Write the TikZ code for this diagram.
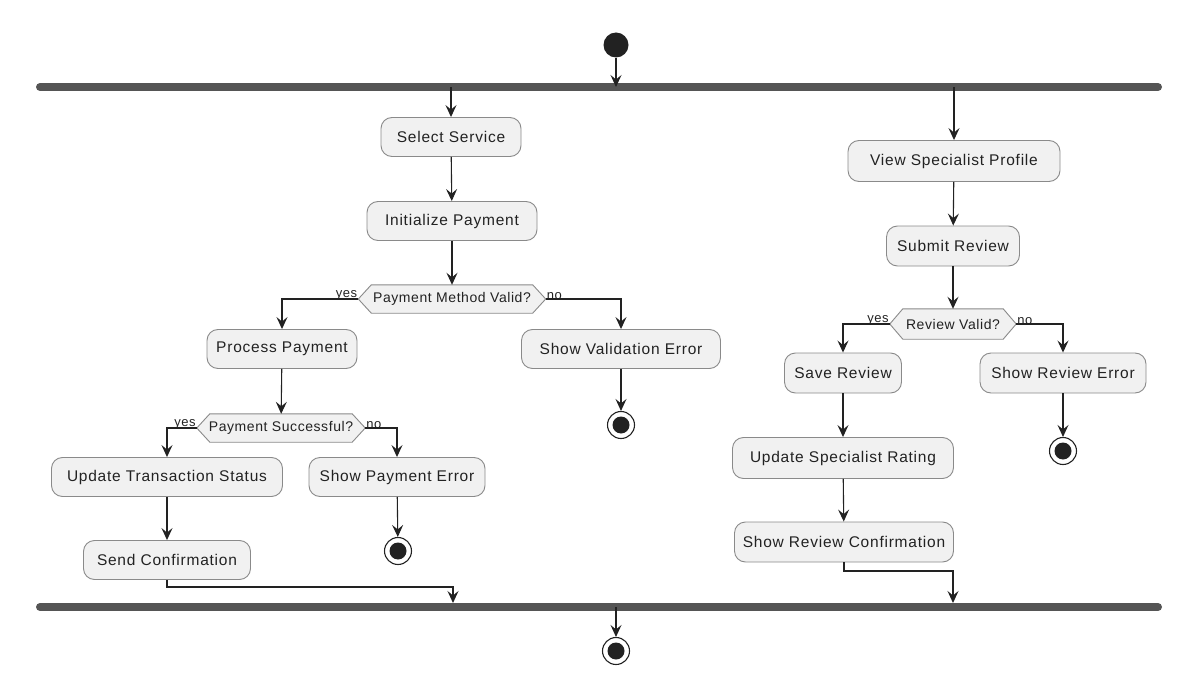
\documentclass[tikz,border=0pt]{standalone}
\usepackage{fontspec}
\setmainfont{Liberation Sans}[LetterSpace=4]
\newfontfamily\actfont{Liberation Sans}[LetterSpace=5]
\usetikzlibrary{arrows.meta}
\definecolor{boxfill}{HTML}{F1F1F1}
\definecolor{boxline}{HTML}{8A8A8A}
\definecolor{ink}{HTML}{222222}
\definecolor{barc}{HTML}{555555}
\tikzset{
  act/.style={draw=boxline, fill=boxfill, rounded corners=11pt, line width=0.9pt,
    minimum height=39pt, inner sep=0pt, font=\actfont\fontsize{15.5}{18}\selectfont, text=ink},
  dec/.style={minimum height=28pt, inner sep=0pt, font=\fontsize{14}{16}\selectfont, text=ink},
  lbl/.style={font=\fontsize{13}{15}\selectfont, text=ink, inner sep=0pt},
  flow/.style={draw=ink, line width=1.1pt, -{Stealth[length=12pt,width=11pt,inset=4.5pt]}},
  bar/.style={draw=barc, line width=8pt, line cap=round},
  startn/.style={circle, fill=ink, minimum size=25pt, inner sep=0pt},
  endn/.style={circle, draw=ink, fill=white, line width=1.1pt, minimum size=27pt, inner sep=0pt,
    path picture={\fill[ink] (path picture bounding box.center) circle (8.5pt);}},
}
\newcommand{\hexa}[1]{%
  \draw[draw=boxline, fill=boxfill, line width=0.9pt]
    (#1.west) -- ([xshift=13pt]#1.north west) -- ([xshift=-13pt]#1.north east) -- (#1.east)
    -- ([xshift=-13pt]#1.south east) -- ([xshift=13pt]#1.south west) -- cycle;
  \node[dec] at (#1) {\csname hexlabel#1\endcsname};}
\begin{document}
\begin{tikzpicture}[x=1pt,y=-1pt]
\useasboundingbox (0,0) rectangle (1195,698);
% bars
\coordinate (tb1) at (40,87); \coordinate (tb2) at (1158,87);
\coordinate (bb1) at (40,607); \coordinate (bb2) at (1158,607);
\draw[bar] (tb1) -- (tb2);
\draw[bar] (bb1) -- (bb2);
\node[startn] (start) at (616,45) {};
\node[endn] (fin) at (616,651) {};
% left branch
\node[act, minimum width=140pt] (sel) at (451,137) {Select Service};
\node[act, minimum width=170pt] (init) at (452,221) {Initialize Payment};
\node[dec, minimum width=187pt] (d1) at (452,299) {};
\node[act, minimum width=150pt] (proc) at (282,349) {Process Payment};
\node[act, minimum width=199pt] (sve) at (621,349) {Show Validation Error};
\node[endn] (e1) at (621,425) {};
\node[dec, minimum width=168pt] (d2) at (281,428) {};
\node[act, minimum width=231pt] (uts) at (167,477) {Update Transaction Status};
\node[act, minimum width=176pt] (spe) at (397,477) {Show Payment Error};
\node[endn] (e2) at (398,551) {};
\node[act, minimum width=167pt] (sc) at (167,560) {Send Confirmation};
% right branch
\node[act, minimum width=212pt, minimum height=41pt] (vsp) at (954,161) {View Specialist Profile};
\node[act, minimum width=133pt, minimum height=40pt] (sr) at (953,246) {Submit Review};
\node[dec, minimum width=126pt, minimum height=30pt] (d3) at (953,324) {};
\node[act, minimum width=117pt, minimum height=40pt] (save) at (843,373) {Save Review};
\node[act, minimum width=166pt, minimum height=40pt] (sre) at (1063,373) {Show Review Error};
\node[endn] (e3) at (1063,451) {};
\node[act, minimum width=221pt, minimum height=41pt] (usr) at (843,458) {Update Specialist Rating};
\node[act, minimum width=219pt, minimum height=40pt] (src) at (844,542) {Show Review Confirmation};
% hexagons
\expandafter\def\csname hexlabeld1\endcsname{Payment Method Valid?}
\expandafter\def\csname hexlabeld2\endcsname{Payment Successful?}
\expandafter\def\csname hexlabeld3\endcsname{Review Valid?}
\hexa{d1}\hexa{d2}\hexa{d3}
% flows
\draw[flow] (start) -- (start |- tb1);
\draw[flow] (sel |- tb1) -- (sel);
\draw[flow] (vsp |- tb1) -- (vsp);
\draw[flow] (sel) -- (init);
\draw[flow] (init) -- (d1);
\draw[flow] (d1.west) -| (proc.north);
\draw[flow] (d1.east) -| (sve.north);
\node[lbl, anchor=south east] (y1) at ([xshift=-1pt,yshift=-1pt]d1.west) {yes};
\node[lbl, anchor=south west] (n1) at ([xshift=1pt,yshift=-1pt]d1.east) {no};
\draw[flow] (sve) -- (e1);
\draw[flow] (proc) -- (d2);
\draw[flow] (d2.west) -| (uts.north);
\draw[flow] (d2.east) -| (spe.north);
\node[lbl, anchor=south east] (y2) at ([xshift=-1pt,yshift=-1pt]d2.west) {yes};
\node[lbl, anchor=south west] (n2) at ([xshift=1pt,yshift=-1pt]d2.east) {no};
\draw[flow] (spe) -- (e2);
\draw[flow] (uts) -- (sc);
\coordinate (j1) at (167,587);
\draw[flow] (sc.south) -- (j1) -| (453,603);
\draw[flow] (vsp) -- (sr);
\draw[flow] (sr) -- (d3);
\draw[flow] (d3.west) -| (save.north);
\draw[flow] (d3.east) -| (sre.north);
\node[lbl, anchor=south east] (y3) at ([xshift=-1pt,yshift=-1pt]d3.west) {yes};
\node[lbl, anchor=south west] (n3) at ([xshift=1pt,yshift=-1pt]d3.east) {no};
\draw[flow] (sre) -- (e3);
\draw[flow] (save) -- (usr);
\draw[flow] (usr) -- (src);
\coordinate (j2) at (844,571);
\draw[flow] (src.south) -- (j2) -| (953,603);
\draw[flow] (bb1 -| fin) -- (fin);
\end{tikzpicture}
\end{document}
